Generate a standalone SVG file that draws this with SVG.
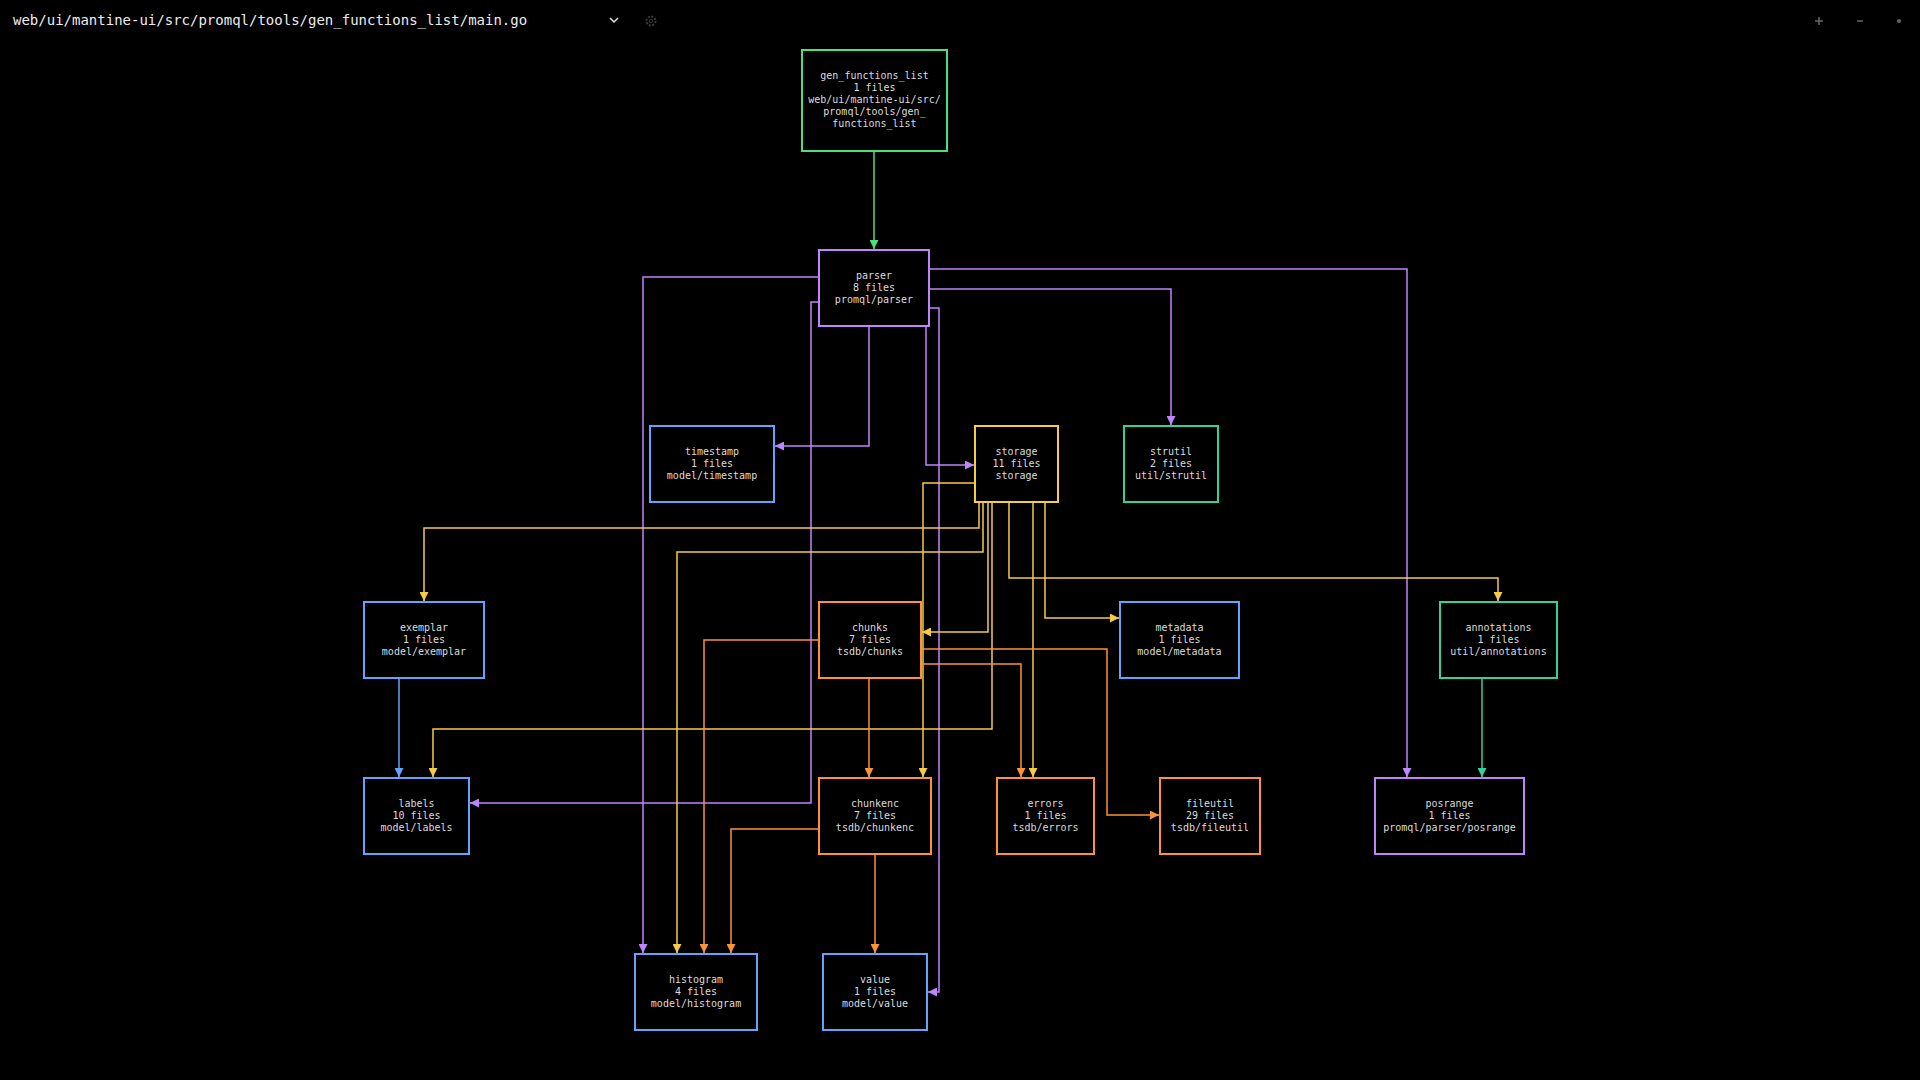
<svg xmlns="http://www.w3.org/2000/svg" width="1920" height="1080" viewBox="0 0 1920 1080">
<style>
.bg{fill:#000}
.box{fill:#000;stroke-width:2}
.t{font-family:"DejaVu Sans Mono","Liberation Mono",monospace;font-size:10px;fill:#dcdcdc;text-anchor:middle}
.title{font-family:"DejaVu Sans Mono","Liberation Mono",monospace;font-size:14px;fill:#ececec}
.c{fill:none;stroke-width:1.5}
.g{stroke:#4ade80}.p{stroke:#c084fc}.b{stroke:#60a5fa}.y{stroke:#f5cc45}.o{stroke:#fb923c}.tl{stroke:#34d1a0}
</style>
<defs>
<marker id="ag" viewBox="0 0 10 10" refX="10" refY="5" markerWidth="9" markerHeight="9" markerUnits="userSpaceOnUse" orient="auto"><path d="M0,0L10,5L0,10z" fill="#4ade80"/></marker>
<marker id="ap" viewBox="0 0 10 10" refX="10" refY="5" markerWidth="9" markerHeight="9" markerUnits="userSpaceOnUse" orient="auto"><path d="M0,0L10,5L0,10z" fill="#c084fc"/></marker>
<marker id="ab" viewBox="0 0 10 10" refX="10" refY="5" markerWidth="9" markerHeight="9" markerUnits="userSpaceOnUse" orient="auto"><path d="M0,0L10,5L0,10z" fill="#60a5fa"/></marker>
<marker id="ay" viewBox="0 0 10 10" refX="10" refY="5" markerWidth="9" markerHeight="9" markerUnits="userSpaceOnUse" orient="auto"><path d="M0,0L10,5L0,10z" fill="#f5cc45"/></marker>
<marker id="ao" viewBox="0 0 10 10" refX="10" refY="5" markerWidth="9" markerHeight="9" markerUnits="userSpaceOnUse" orient="auto"><path d="M0,0L10,5L0,10z" fill="#fb923c"/></marker>
<marker id="at" viewBox="0 0 10 10" refX="10" refY="5" markerWidth="9" markerHeight="9" markerUnits="userSpaceOnUse" orient="auto"><path d="M0,0L10,5L0,10z" fill="#34d1a0"/></marker>
</defs>
<rect class="bg" x="0" y="0" width="1920" height="1080"/>
<g id="toolbar">
<text class="title" x="13" y="25">web/ui/mantine-ui/src/promql/tools/gen_functions_list/main.go</text>
<path d="M610,18L614,22L618,18" fill="none" stroke="#e0e0e0" stroke-width="1.5"/>
<circle cx="651" cy="21" r="4.5" fill="none" stroke="#3a3a3a" stroke-width="2" stroke-dasharray="2 1.5"/>
<circle cx="651" cy="21" r="1.8" fill="none" stroke="#3a3a3a" stroke-width="1"/>
<path d="M1815,21H1823M1819,17V25" stroke="#666" stroke-width="1.5"/>
<path d="M1857,21H1863" stroke="#666" stroke-width="1.5"/>
<circle cx="1899" cy="21" r="2" fill="#666"/>
</g>
<g id="connectors">
<path class="c g" d="M874,151V249" marker-end="url(#ag)"/>
<path class="c p" d="M819,277H643V953" marker-end="url(#ap)"/>
<path class="c p" d="M819,302H811V803H470" marker-end="url(#ap)"/>
<path class="c p" d="M869,326V446H775" marker-end="url(#ap)"/>
<path class="c p" d="M926,326V465H974" marker-end="url(#ap)"/>
<path class="c p" d="M929,308H939V992H928" marker-end="url(#ap)"/>
<path class="c p" d="M929,289H1171V425" marker-end="url(#ap)"/>
<path class="c p" d="M929,269H1407V777" marker-end="url(#ap)"/>
<path class="c y" d="M975,483H923V777" marker-end="url(#ay)"/>
<path class="c y" d="M979,502V528H424V601" marker-end="url(#ay)"/>
<path class="c y" d="M983,502V552H677V953" marker-end="url(#ay)"/>
<path class="c y" d="M988,502V632H922" marker-end="url(#ay)"/>
<path class="c y" d="M992,502V729H433V777" marker-end="url(#ay)"/>
<path class="c y" d="M1009,502V578H1498V601" marker-end="url(#ay)"/>
<path class="c y" d="M1033,502V777" marker-end="url(#ay)"/>
<path class="c y" d="M1045,502V618H1119" marker-end="url(#ay)"/>
<path class="c o" d="M869,678V777" marker-end="url(#ao)"/>
<path class="c o" d="M819,640H704V953" marker-end="url(#ao)"/>
<path class="c o" d="M921,649H1107V815H1159" marker-end="url(#ao)"/>
<path class="c o" d="M921,664H1021V777" marker-end="url(#ao)"/>
<path class="c o" d="M819,829H731V953" marker-end="url(#ao)"/>
<path class="c o" d="M875,854V953" marker-end="url(#ao)"/>
<path class="c b" d="M399,678V777" marker-end="url(#ab)"/>
<path class="c tl" d="M1482,678V777" marker-end="url(#at)"/>
</g>
<g id="gen_functions_list"><rect class="box" x="802" y="50" width="145" height="101" stroke="#4ade80"/>
<text class="t" x="874.5" y="79">gen_functions_list</text><text class="t" x="874.5" y="91">1 files</text><text class="t" x="874.5" y="103">web/ui/mantine-ui/src/</text><text class="t" x="874.5" y="115">promql/tools/gen_</text><text class="t" x="874.5" y="127">functions_list</text></g>
<g id="parser"><rect class="box" x="819" y="250" width="110" height="76" stroke="#c084fc"/>
<text class="t" x="874" y="279">parser</text><text class="t" x="874" y="291">8 files</text><text class="t" x="874" y="303">promql/parser</text></g>
<g id="timestamp"><rect class="box" x="650" y="426" width="124" height="76" stroke="#60a5fa"/>
<text class="t" x="712" y="455">timestamp</text><text class="t" x="712" y="467">1 files</text><text class="t" x="712" y="479">model/timestamp</text></g>
<g id="storage"><rect class="box" x="975" y="426" width="83" height="76" stroke="#f5cc45"/>
<text class="t" x="1016.5" y="455">storage</text><text class="t" x="1016.5" y="467">11 files</text><text class="t" x="1016.5" y="479">storage</text></g>
<g id="strutil"><rect class="box" x="1124" y="426" width="94" height="76" stroke="#34d1a0"/>
<text class="t" x="1171" y="455">strutil</text><text class="t" x="1171" y="467">2 files</text><text class="t" x="1171" y="479">util/strutil</text></g>
<g id="exemplar"><rect class="box" x="364" y="602" width="120" height="76" stroke="#60a5fa"/>
<text class="t" x="424" y="631">exemplar</text><text class="t" x="424" y="643">1 files</text><text class="t" x="424" y="655">model/exemplar</text></g>
<g id="chunks"><rect class="box" x="819" y="602" width="102" height="76" stroke="#fb923c"/>
<text class="t" x="870" y="631">chunks</text><text class="t" x="870" y="643">7 files</text><text class="t" x="870" y="655">tsdb/chunks</text></g>
<g id="metadata"><rect class="box" x="1120" y="602" width="119" height="76" stroke="#60a5fa"/>
<text class="t" x="1179.5" y="631">metadata</text><text class="t" x="1179.5" y="643">1 files</text><text class="t" x="1179.5" y="655">model/metadata</text></g>
<g id="annotations"><rect class="box" x="1440" y="602" width="117" height="76" stroke="#34d1a0"/>
<text class="t" x="1498.5" y="631">annotations</text><text class="t" x="1498.5" y="643">1 files</text><text class="t" x="1498.5" y="655">util/annotations</text></g>
<g id="labels"><rect class="box" x="364" y="778" width="105" height="76" stroke="#60a5fa"/>
<text class="t" x="416.5" y="807">labels</text><text class="t" x="416.5" y="819">10 files</text><text class="t" x="416.5" y="831">model/labels</text></g>
<g id="chunkenc"><rect class="box" x="819" y="778" width="112" height="76" stroke="#fb923c"/>
<text class="t" x="875" y="807">chunkenc</text><text class="t" x="875" y="819">7 files</text><text class="t" x="875" y="831">tsdb/chunkenc</text></g>
<g id="errors"><rect class="box" x="997" y="778" width="97" height="76" stroke="#fb923c"/>
<text class="t" x="1045.5" y="807">errors</text><text class="t" x="1045.5" y="819">1 files</text><text class="t" x="1045.5" y="831">tsdb/errors</text></g>
<g id="fileutil"><rect class="box" x="1160" y="778" width="100" height="76" stroke="#fb923c"/>
<text class="t" x="1210" y="807">fileutil</text><text class="t" x="1210" y="819">29 files</text><text class="t" x="1210" y="831">tsdb/fileutil</text></g>
<g id="posrange"><rect class="box" x="1375" y="778" width="149" height="76" stroke="#c084fc"/>
<text class="t" x="1449.5" y="807">posrange</text><text class="t" x="1449.5" y="819">1 files</text><text class="t" x="1449.5" y="831">promql/parser/posrange</text></g>
<g id="histogram"><rect class="box" x="635" y="954" width="122" height="76" stroke="#60a5fa"/>
<text class="t" x="696" y="983">histogram</text><text class="t" x="696" y="995">4 files</text><text class="t" x="696" y="1007">model/histogram</text></g>
<g id="value"><rect class="box" x="823" y="954" width="104" height="76" stroke="#60a5fa"/>
<text class="t" x="875" y="983">value</text><text class="t" x="875" y="995">1 files</text><text class="t" x="875" y="1007">model/value</text></g>
</svg>
